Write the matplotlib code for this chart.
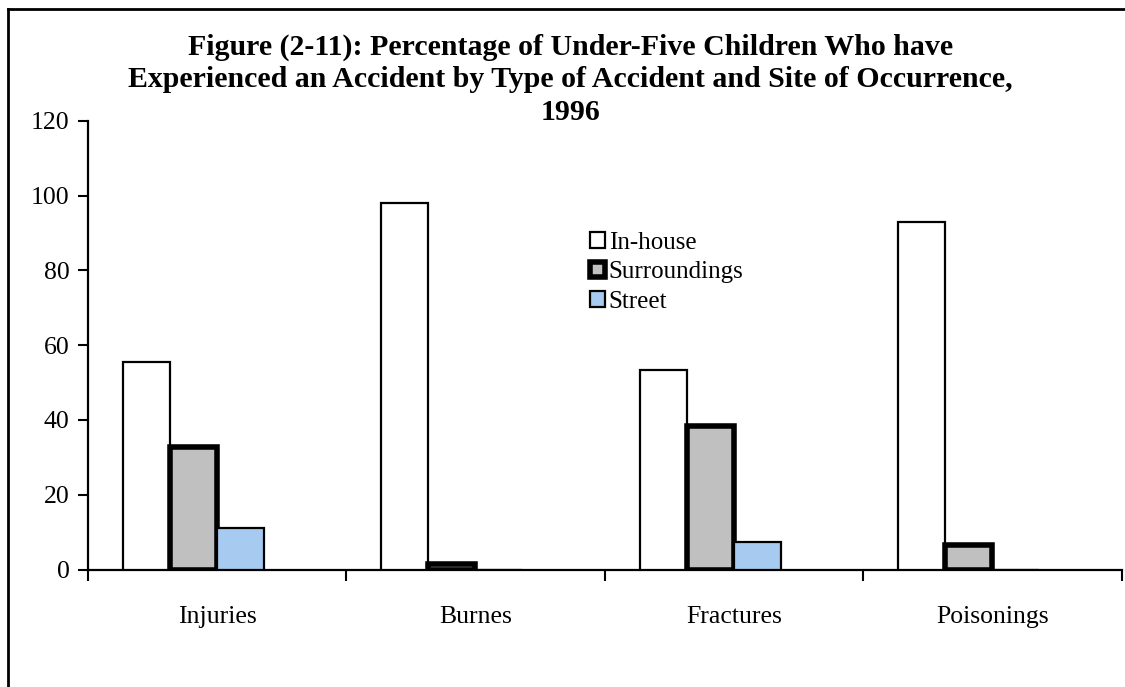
import numpy as np
import matplotlib
matplotlib.use("Agg")
import matplotlib.pyplot as plt
from matplotlib.lines import Line2D

plt.rcParams["font.family"] = ["Liberation Serif", "DejaVu Serif"]

categories = ["Injuries", "Burnes", "Fractures", "Poisonings"]
series = ["In-house", "Surroundings", "Street"]
in_house = [55.6, 98.1, 53.3, 92.9]
surroundings = [32.7, 1.5, 38.3, 6.6]
street = [11.2, 0, 7.4, 0]

colors = ["white", "#C0C0C0", "#A6CAF0"]
edge_w = [1.6, 4.0, 1.6]

fig = plt.figure(figsize=(11.25, 6.87), dpi=100)
ax = fig.add_axes([0.078, 0.171, 0.919, 0.653])

x = np.arange(len(categories))
w = 0.182
offsets = [-1.5 * w, -0.5 * w, 0.5 * w]
for vals, c, lw, off, name in zip([in_house, surroundings, street], colors, edge_w, offsets, series):
    ax.bar(x + off, vals, w, color=c, edgecolor="black", linewidth=lw, label=name, zorder=3)

ax.set_xlim(-0.5, len(categories) - 0.5)
ax.set_ylim(0, 120)
ax.set_yticks(range(0, 121, 20))
ax.tick_params(axis="y", direction="out", length=7, width=1.5, labelsize=18.5, pad=6)
ax.set_xticks(np.arange(-0.5, len(categories), 1.0))
ax.set_xticklabels([])
ax.set_xticks(x, minor=True)
ax.set_xticklabels(categories, minor=True, fontsize=18.5)
ax.tick_params(axis="x", which="major", direction="out", length=8, width=1.5)
ax.tick_params(axis="x", which="minor", length=0, pad=26)
for s in ["top", "right"]:
    ax.spines[s].set_visible(False)
for s in ["left", "bottom"]:
    ax.spines[s].set_linewidth(1.6)

leg = ax.legend(loc="upper left", bbox_to_anchor=(0.476, 0.775), frameon=False, fontsize=18,
                handlelength=0.6, handleheight=0.6, handletextpad=0.15, labelspacing=0.3,
                borderaxespad=0)

fig.text(0.507, 0.884, "Figure (2-11): Percentage of Under-Five Children Who have\n"
         "Experienced an Accident by Type of Accident and Site of Occurrence,\n1996",
         ha="center", va="center", fontsize=21.5, weight="bold", linespacing=1.25)

# outer frame (top and left edges visible)
fig.add_artist(Line2D([0.007, 1.0], [0.987, 0.987], color="black", lw=2, transform=fig.transFigure))
fig.add_artist(Line2D([0.007, 0.007], [0.0, 0.987], color="black", lw=2, transform=fig.transFigure))

fig.savefig("out.png", dpi=100, facecolor="white")
